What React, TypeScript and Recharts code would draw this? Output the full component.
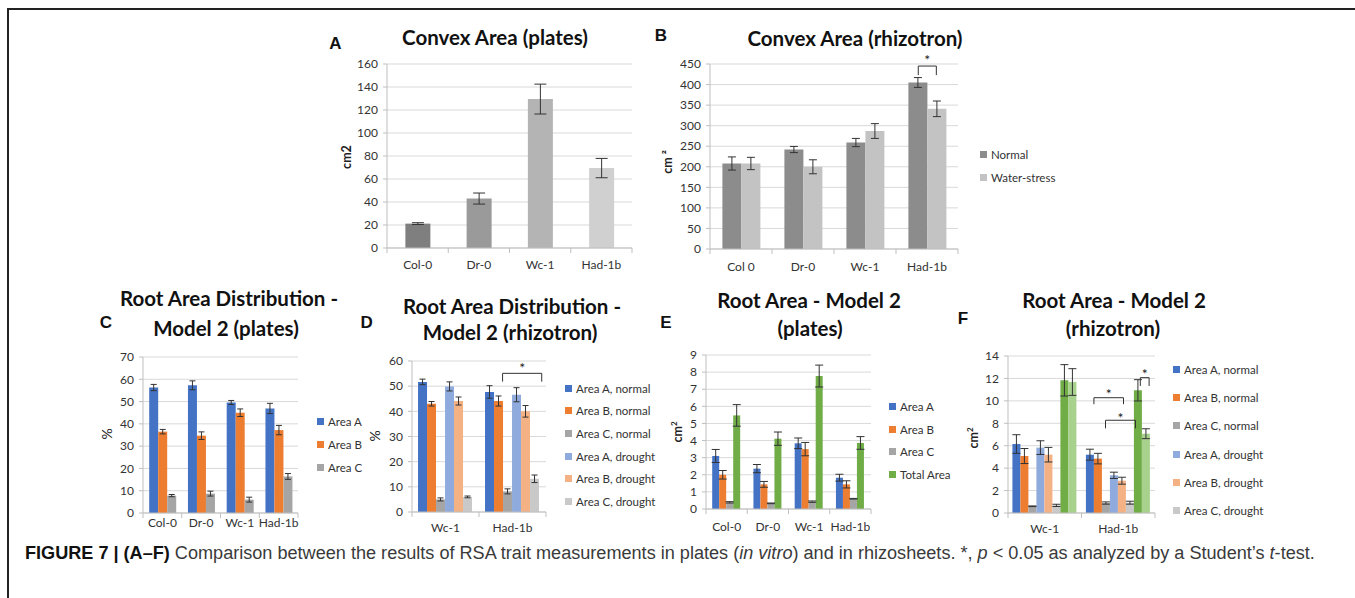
import React from 'react';
import { BarChart, Bar, XAxis, YAxis, CartesianGrid, ErrorBar, Cell, LabelList } from 'recharts';

const FONT = 'Lato, "Open Sans", sans-serif';
const AXIS = '#bfbfbf';
const GRID = '#d9d9d9';

// A - convex area, plates
const platesLines = ['Col-0', 'Dr-0', 'Wc-1', 'Had-1b'];
const convexPlates = [21.2, 43, 129.5, 69.5];
const convexPlatesErr = [0.8, 4.8, 13, 8.4];
const convexPlatesColors = ['#7f7f7f', '#9a9a9a', '#b4b4b4', '#d0d0d0'];

// B - convex area, rhizotron
const rhizoLines = ['Col 0', 'Dr-0', 'Wc-1', 'Had-1b'];
const convexNormal = [208, 242, 259, 405];
const convexNormalErr = [16, 7.5, 10, 12];
const convexStress = [208, 200, 287, 341];
const convexStressErr = [15, 17, 18, 19];

// C - root area distribution (%), plates
const distA = [56.3, 57.3, 49.6, 46.9];
const distAErr = [1.4, 2, 0.9, 2.3];
const distB = [36.5, 34.7, 45, 37.2];
const distBErr = [1, 1.7, 1.7, 2.1];
const distC = [7.8, 8.7, 6, 16.4];
const distCErr = [0.5, 1.1, 1.1, 1.3];

// D - root area distribution (%), rhizotron
const rhizoPair = ['Wc-1', 'Had-1b'];
const rdAn = [51.7, 47.7];
const rdAnErr = [1.1, 2.5];
const rdBn = [43, 44.1];
const rdBnErr = [0.9, 2];
const rdCn = [5, 8.2];
const rdCnErr = [0.6, 1];
const rdAd = [49.9, 46.6];
const rdAdErr = [1.8, 2.8];
const rdBd = [44.1, 40];
const rdBdErr = [1.6, 2.3];
const rdCd = [6, 13.2];
const rdCdErr = [0.35, 1.5];

// E - root area (cm2), plates
const raA = [3.1, 2.36, 3.84, 1.83];
const raAErr = [0.38, 0.24, 0.31, 0.2];
const raB = [2.0, 1.44, 3.5, 1.44];
const raBErr = [0.25, 0.17, 0.39, 0.21];
const raC = [0.39, 0.33, 0.43, 0.6];
const raCErr = [0.04, 0.02, 0.04, 0.02];
const raTot = [5.47, 4.11, 7.77, 3.86];
const raTotErr = [0.63, 0.39, 0.64, 0.37];

// F - root area (cm2), rhizotron
const rrAn = [6.15, 5.2];
const rrAnErr = [0.83, 0.49];
const rrBn = [5.08, 4.85];
const rrBnErr = [0.67, 0.47];
const rrCn = [0.6, 0.89];
const rrCnErr = [0.03, 0.1];
const rrAd = [5.83, 3.36];
const rrAdErr = [0.61, 0.28];
const rrBd = [5.2, 2.88];
const rrBdErr = [0.65, 0.31];
const rrCd = [0.68, 0.92];
const rrCdErr = [0.1, 0.13];
const rrTn = [11.83, 10.94];
const rrTnErr = [1.4, 0.95];
const rrTd = [11.68, 7.07];
const rrTdErr = [1.19, 0.44];

type Series = { key: string; name: string; color: string; values: number[]; errs: number[] };
// bracket between two bars of one category; bar indices are series order, frac is fraction of bar width
type Bracket = { cat: number; from: number; fromFrac: number; to: number; toFrac: number; top: number; leg: number; starDy: number };

const BLUE = '#4472c4', ORANGE = '#ed7d31', GRAY = '#a5a5a5', GREEN = '#70ad47';
const LBLUE = '#8faadc', LORANGE = '#f4b183', LGRAY = '#c9c9c9', LGREEN = '#a9d18e';

const seriesA: Series[] = [{ key: 'v', name: 'Convex area', color: '#999', values: convexPlates, errs: convexPlatesErr }];
const seriesB: Series[] = [
  { key: 'n', name: 'Normal', color: '#8c8c8c', values: convexNormal, errs: convexNormalErr },
  { key: 'w', name: 'Water-stress', color: '#c3c3c3', values: convexStress, errs: convexStressErr },
];
const seriesC: Series[] = [
  { key: 'a', name: 'Area A', color: BLUE, values: distA, errs: distAErr },
  { key: 'b', name: 'Area B', color: ORANGE, values: distB, errs: distBErr },
  { key: 'c', name: 'Area C', color: GRAY, values: distC, errs: distCErr },
];
const seriesD: Series[] = [
  { key: 'an', name: 'Area A, normal', color: BLUE, values: rdAn, errs: rdAnErr },
  { key: 'bn', name: 'Area B, normal', color: ORANGE, values: rdBn, errs: rdBnErr },
  { key: 'cn', name: 'Area C, normal', color: GRAY, values: rdCn, errs: rdCnErr },
  { key: 'ad', name: 'Area A, drought', color: LBLUE, values: rdAd, errs: rdAdErr },
  { key: 'bd', name: 'Area B, drought', color: LORANGE, values: rdBd, errs: rdBdErr },
  { key: 'cd', name: 'Area C, drought', color: LGRAY, values: rdCd, errs: rdCdErr },
];
const seriesE: Series[] = [
  { key: 'a', name: 'Area A', color: BLUE, values: raA, errs: raAErr },
  { key: 'b', name: 'Area B', color: ORANGE, values: raB, errs: raBErr },
  { key: 'c', name: 'Area C', color: GRAY, values: raC, errs: raCErr },
  { key: 't', name: 'Total Area', color: GREEN, values: raTot, errs: raTotErr },
];
const seriesF: Series[] = [
  { key: 'an', name: 'Area A, normal', color: BLUE, values: rrAn, errs: rrAnErr },
  { key: 'bn', name: 'Area B, normal', color: ORANGE, values: rrBn, errs: rrBnErr },
  { key: 'cn', name: 'Area C, normal', color: GRAY, values: rrCn, errs: rrCnErr },
  { key: 'ad', name: 'Area A, drought', color: LBLUE, values: rrAd, errs: rrAdErr },
  { key: 'bd', name: 'Area B, drought', color: LORANGE, values: rrBd, errs: rrBdErr },
  { key: 'cd', name: 'Area C, drought', color: LGRAY, values: rrCd, errs: rrCdErr },
  { key: 'tn', name: 'Total, normal', color: GREEN, values: rrTn, errs: rrTnErr },
  { key: 'td', name: 'Total, drought', color: LGREEN, values: rrTd, errs: rrTdErr },
];

const bracketsB: Bracket[] = [{ cat: 3, from: 0, fromFrac: 0.52, to: 1, toFrac: 0.47, top: 445, leg: 423, starDy: -1 }];
const bracketsD: Bracket[] = [{ cat: 1, from: 1, fromFrac: 0.95, to: 5, toFrac: 1.3, top: 55.1, leg: 51.8, starDy: 0 }];
const bracketsF: Bracket[] = [
  { cat: 1, from: 1, fromFrac: 0, to: 4, toFrac: 0.7, top: 10.28, leg: 9.7, starDy: 1 },
  { cat: 1, from: 2, fromFrac: 0.45, to: 6, toFrac: 0.2, top: 8.27, leg: 7.55, starDy: 3 },
  { cat: 1, from: 6, fromFrac: 0.8, to: 7, toFrac: 0.9, top: 12.07, leg: 11.33, starDy: 1 },
];

type Plot = { l: number; t: number; r: number; b: number };

interface PanelProps {
  plot: Plot;
  categories: string[];
  series: Series[];
  yMax: number;
  yStep: number;
  gap: string;
  capW: number;
  labelDy: number;
  cellColors?: string[];
  brackets?: Bracket[];
}

const Panel: React.FC<PanelProps> = ({ plot, categories, series, yMax, yStep, gap, capW, labelDy, cellColors, brackets = [] }) => {
  const padL = 50, padT = 30, padR = 10, padB = 30;
  const w = plot.r - plot.l + padL + padR;
  const h = plot.b - plot.t + padT + padB;
  const band = (plot.r - plot.l) / categories.length;
  const ticks: number[] = [];
  for (let v = 0; v <= yMax + 1e-9; v += yStep) ticks.push(Math.round(v * 100) / 100);

  const data = categories.map((c, i) => {
    const row: Record<string, any> = { cat: c };
    series.forEach((s) => {
      row[s.key] = s.values[i];
      row[s.key + 'Err'] = s.errs[i];
    });
    return row;
  });

  const last = series.length - 1;

  const catTick = (p: any) => {
    const x = Number(p.x), y = Number(p.y);
    return (
      <g>
        <line x1={x - band / 2} x2={x - band / 2} y1={y} y2={y + 5} stroke={AXIS} />
        {p.index === categories.length - 1 && <line x1={x + band / 2} x2={x + band / 2} y1={y} y2={y + 5} stroke={AXIS} />}
        <text x={x} y={y + labelDy} textAnchor="middle" dy="0.35em" fontSize={12} fontFamily={FONT} fill="#333">
          {p.payload.value}
        </text>
      </g>
    );
  };

  const bracketContent = (b: Bracket) => (p: any) => {
    if (p.index !== b.cat) return null;
    const vb = p.viewBox || p;
    const x = Number(vb.x ?? p.x), y = Number(vb.y ?? p.y);
    const bw = Number(vb.width ?? p.width), bh = Number(vb.height ?? p.height);
    const ref = series[last].values[b.cat];
    const k = bh / ref;
    const base = y + bh;
    const yTop = base - b.top * k;
    const yLeg = base - b.leg * k;
    const x1 = x + (b.from - last + b.fromFrac) * bw;
    const x2 = x + (b.to - last + b.toFrac) * bw;
    return (
      <g>
        <path d={`M${x1},${yLeg}V${yTop}H${x2}V${yLeg}`} fill="none" stroke="#333" strokeWidth={1} />
        <text x={(x1 + x2) / 2} y={yTop + b.starDy} textAnchor="middle" fontSize={14} fontFamily={FONT} fill="#222">*</text>
      </g>
    );
  };

  return (
    <div style={{ position: 'absolute', left: plot.l - padL, top: plot.t - padT }}>
      <BarChart width={w} height={h} data={data} margin={{ top: padT, right: padR, left: 0, bottom: 0 }} barGap={0} barCategoryGap={gap}>
        <CartesianGrid vertical={false} stroke={GRID} />
        <XAxis dataKey="cat" height={padB} interval={0} tickLine={false} tickSize={0} tickMargin={0} axisLine={{ stroke: AXIS }} tick={catTick} />
        <YAxis
          width={padL}
          domain={[0, yMax]}
          ticks={ticks}
          interval={0}
          tickSize={4}
          tickMargin={5}
          tickLine={{ stroke: AXIS }}
          axisLine={{ stroke: AXIS }}
          tick={{ fontSize: 12, fontFamily: FONT, fill: '#333' }}
        />
        {series.map((s, si) => (
          <Bar key={s.key} dataKey={s.key} fill={s.color} isAnimationActive={false}>
            {cellColors && categories.map((c, i) => <Cell key={c} fill={cellColors[i]} />)}
            <ErrorBar dataKey={s.key + 'Err'} width={capW} stroke="#333" strokeWidth={1} direction="y" />
            {si === last && brackets.map((b, bi) => <LabelList key={bi} dataKey={s.key} content={bracketContent(b)} />)}
          </Bar>
        ))}
      </BarChart>
    </div>
  );
};

const centered = (x: number, y: number): React.CSSProperties => ({
  position: 'absolute',
  left: x,
  top: y,
  transform: 'translate(-50%, -50%)',
  whiteSpace: 'nowrap',
  lineHeight: 1,
});

const Title: React.FC<{ text: string; x: number; y: number }> = ({ text, x, y }) => (
  <div style={{ ...centered(x, y), fontFamily: FONT, fontWeight: 700, fontSize: 20.5, color: '#111' }}>{text}</div>
);

const Letter: React.FC<{ text: string; x: number; y: number }> = ({ text, x, y }) => (
  <div style={{ ...centered(x, y), fontFamily: '"Liberation Sans", Arial, sans-serif', fontWeight: 700, fontSize: 17, color: '#111' }}>{text}</div>
);

const YLabel: React.FC<{ x: number; y: number; bold?: boolean; size?: number; children: React.ReactNode }> = ({ x, y, bold = true, size = 12.5, children }) => (
  <div style={{ ...centered(x, y), transform: 'translate(-50%, -50%) rotate(-90deg)', fontFamily: FONT, fontWeight: bold ? 700 : 400, fontSize: size, color: '#222' }}>
    {children}
  </div>
);

const Legend: React.FC<{ series: Series[]; x: number; y0: number; dy: number }> = ({ series, x, y0, dy }) => (
  <>
    {series.map((s, i) => (
      <div key={s.key} style={{ position: 'absolute', left: x, top: y0 + i * dy - 8, height: 16, display: 'flex', alignItems: 'center', whiteSpace: 'nowrap', fontFamily: FONT, fontSize: 11.5, color: '#333' }}>
        <span style={{ display: 'inline-block', width: 7, height: 7, background: s.color, marginRight: 4 }} />
        {s.name}
      </div>
    ))}
  </>
);

const legendF = seriesF.slice(0, 6);

// caption is squeezed horizontally to the width of the original condensed type
const Caption: React.FC = () => {
  const ref = React.useRef<HTMLDivElement>(null);
  const [k, setK] = React.useState(1);
  React.useLayoutEffect(() => {
    if (ref.current) {
      const wNat = ref.current.scrollWidth;
      if (wNat > 0) setK(1290 / wNat);
    }
  }, []);
  return (
    <div
      ref={ref}
      style={{
        position: 'absolute',
        left: 25,
        top: 553,
        display: 'inline-block',
        whiteSpace: 'nowrap',
        lineHeight: 1,
        transform: `translateY(-50%) scaleX(${k})`,
        transformOrigin: 'left center',
        fontFamily: '"Liberation Sans Narrow", "Liberation Sans", Arial, sans-serif',
        fontSize: 18,
        color: '#3a3a3a',
      }}
    >
      <b style={{ color: '#111' }}>FIGURE 7 | (A–F)</b> Comparison between the results of RSA trait measurements in plates (<i>in vitro</i>) and in rhizosheets. *, <i>p</i> &lt; 0.05 as analyzed by a Student’s <i>t</i>-test.
    </div>
  );
};

export default function App() {
  return (
    <div style={{ position: 'absolute', left: 0, top: 0, width: 1355, height: 598, background: '#fff', overflow: 'hidden' }}>
      <div style={{ position: 'absolute', left: 7, top: 8, width: 1360, height: 600, borderTop: '2px solid #222', borderLeft: '2px solid #222' }} />

      {/* A */}
      <Letter text="A" x={335.5} y={43} />
      <Title text="Convex Area (plates)" x={495} y={37} />
      <YLabel x={347} y={157}>cm2</YLabel>
      <Panel plot={{ l: 387, t: 64, r: 632, b: 248 }} categories={platesLines} series={seriesA} yMax={160} yStep={20} gap="30%" capW={6} labelDy={17} cellColors={convexPlatesColors} />

      {/* B */}
      <Letter text="B" x={661} y={35} />
      <Title text="Convex Area (rhizotron)" x={855} y={38} />
      <YLabel x={668} y={162}>cm ²</YLabel>
      <Panel plot={{ l: 710, t: 64, r: 958, b: 249 }} categories={rhizoLines} series={seriesB} yMax={450} yStep={50} gap="20%" capW={4} labelDy={17.5} brackets={bracketsB} />
      <Legend series={seriesB} x={980} y0={154} dy={23} />

      {/* C */}
      <Letter text="C" x={106} y={322} />
      <Title text="Root Area Distribution -" x={229} y={298} />
      <Title text="Model 2 (plates)" x={226} y={328} />
      <YLabel x={107} y={434} bold={false} size={14}>%</YLabel>
      <Panel plot={{ l: 143, t: 357, r: 298, b: 513 }} categories={platesLines} series={seriesC} yMax={70} yStep={10} gap="16%" capW={3} labelDy={10} />
      <Legend series={seriesC} x={317} y0={421} dy={23} />

      {/* D */}
      <Letter text="D" x={366.7} y={321.7} />
      <Title text="Root Area Distribution -" x={512} y={305.7} />
      <Title text="Model 2 (rhizotron)" x={510} y={331.7} />
      <YLabel x={375} y={436} bold={false} size={14}>%</YLabel>
      <Panel plot={{ l: 412, t: 361, r: 546, b: 512 }} categories={rhizoPair} series={seriesD} yMax={60} yStep={10} gap="9%" capW={3} labelDy={16} brackets={bracketsD} />
      <Legend series={seriesD} x={565} y0={388} dy={22.7} />

      {/* E */}
      <Letter text="E" x={666} y={322} />
      <Title text="Root Area - Model 2" x={809} y={300} />
      <Title text="(plates)" x={810} y={328} />
      <YLabel x={677} y={432}>cm<sup style={{ fontSize: 8 }}>2</sup></YLabel>
      <Panel plot={{ l: 706, t: 355, r: 871, b: 509 }} categories={platesLines} series={seriesE} yMax={9} yStep={1} gap="15%" capW={4} labelDy={18} />
      <Legend series={seriesE} x={889} y0={406.7} dy={22.5} />

      {/* F */}
      <Letter text="F" x={963} y={318} />
      <Title text="Root Area - Model 2" x={1114} y={300} />
      <Title text="(rhizotron)" x={1113} y={328} />
      <YLabel x={973} y={438}>cm<sup style={{ fontSize: 8 }}>2</sup></YLabel>
      <Panel plot={{ l: 1008, t: 356, r: 1155, b: 513 }} categories={rhizoPair} series={seriesF} yMax={14} yStep={2} gap="6%" capW={4} labelDy={16} brackets={bracketsF} />
      <Legend series={legendF} x={1173} y0={369.3} dy={28.3} />

      <Caption />
    </div>
  );
}
